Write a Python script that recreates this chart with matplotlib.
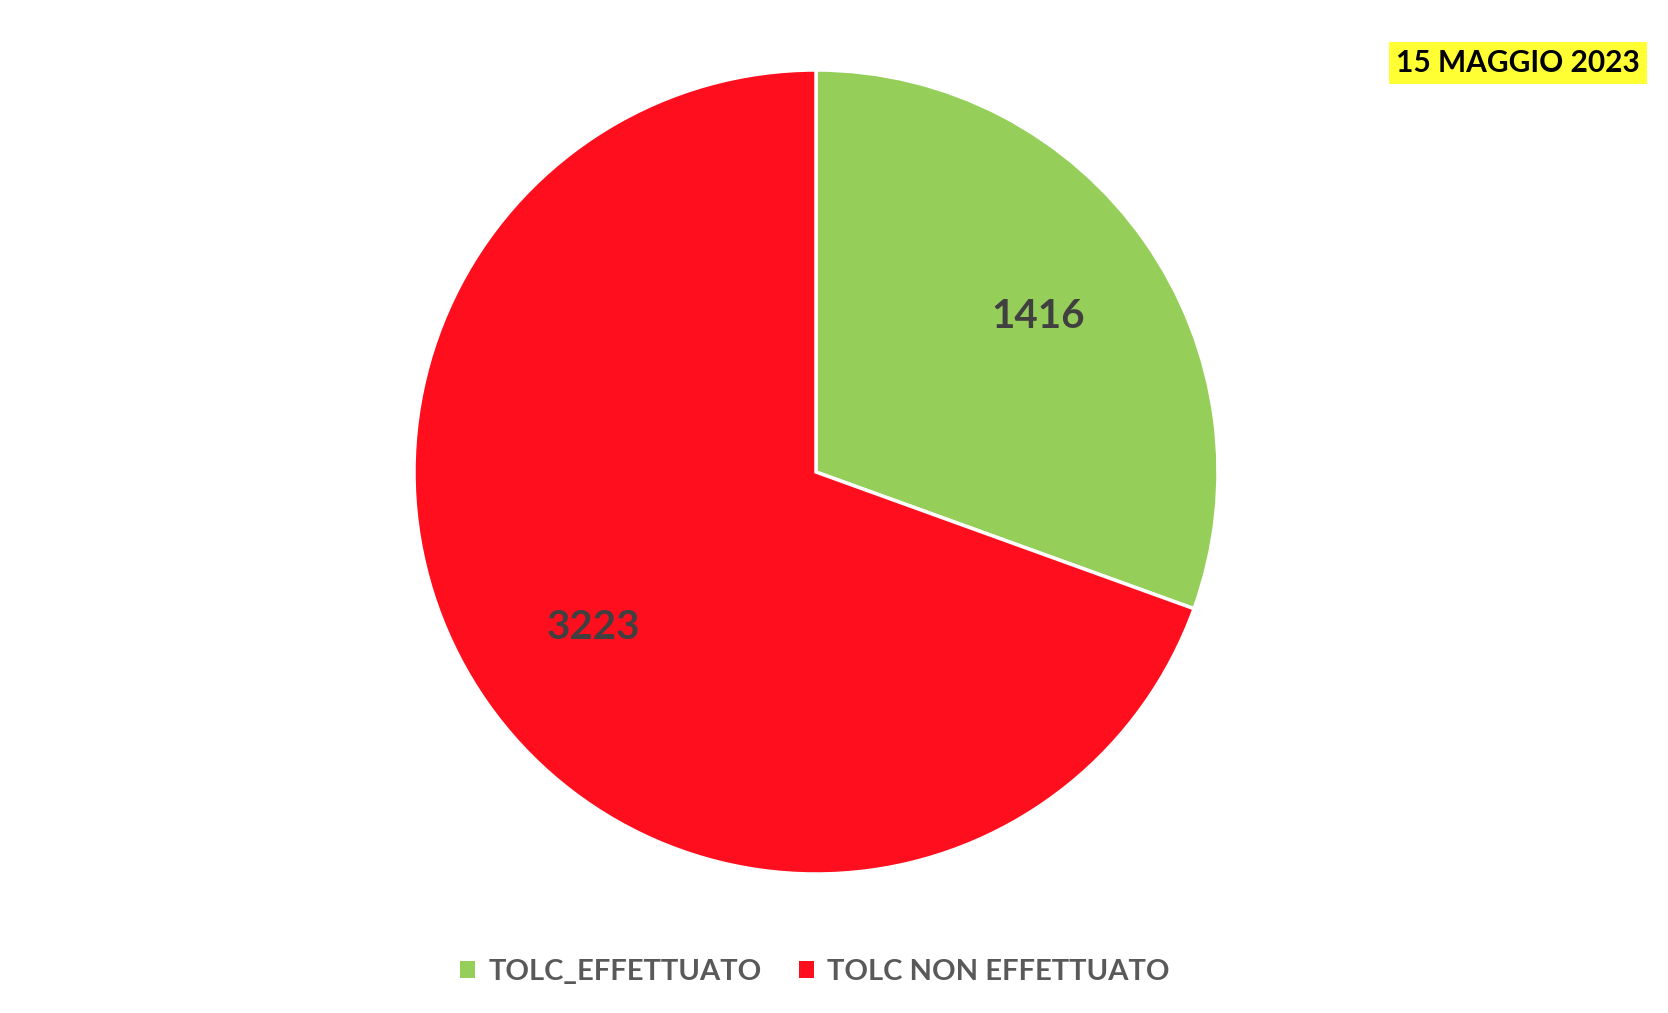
import matplotlib
matplotlib.use('Agg')
import matplotlib.pyplot as plt
from matplotlib import font_manager
from matplotlib.patches import Patch

# data
labels = ['TOLC_EFFETTUATO', 'TOLC NON EFFETTUATO']
values = [1416, 3223]
colors = ['#96CE5A', '#FF0F1E']
date_text = '15 MAGGIO 2023'

names = {f.name for f in font_manager.fontManager.ttflist}
font = 'Liberation Sans Narrow' if 'Liberation Sans Narrow' in names else 'Lato'
plt.rcParams['font.family'] = [font, 'DejaVu Sans']

W, H = 1668, 1013
fig = plt.figure(figsize=(W / 100, H / 100), dpi=100)

# pie placement (pixels): center (816, 472), radius 402
cx, cy, r = 816, 472, 402
ax = fig.add_axes([(cx - r) / W, 1 - (cy + r) / H, 2 * r / W, 2 * r / H])
wedges, texts = ax.pie(values, colors=colors, startangle=90, counterclock=False,
                       labels=[str(v) for v in values], labeldistance=0.675,
                       wedgeprops=dict(edgecolor='white', linewidth=2.5),
                       textprops=dict(fontsize=29, fontweight='bold', color='#404040',
                                      ha='center', va='center'))
ax.set_xlim(-1, 1)
ax.set_ylim(-1, 1)
ax.axis('off')

# date label
fig.text(1640 / W, 1 - 63 / H, date_text, ha='right', va='center',
         fontsize=21.5, fontweight='bold', color='black',
         bbox=dict(facecolor='#FFFF33', edgecolor='none', pad=5))

handles = [Patch(facecolor=c, edgecolor='none') for c in colors]
leg = fig.legend(handles, labels, loc='center', bbox_to_anchor=(815 / W, 1 - 972 / H),
                 ncol=2, frameon=False, handlelength=0.5, handleheight=0.5,
                 handletextpad=0.45, columnspacing=1.3,
                 prop=dict(size=21, weight='bold'))
for t in leg.get_texts():
    t.set_color('#595959')

fig.savefig('out.png', dpi=100)
